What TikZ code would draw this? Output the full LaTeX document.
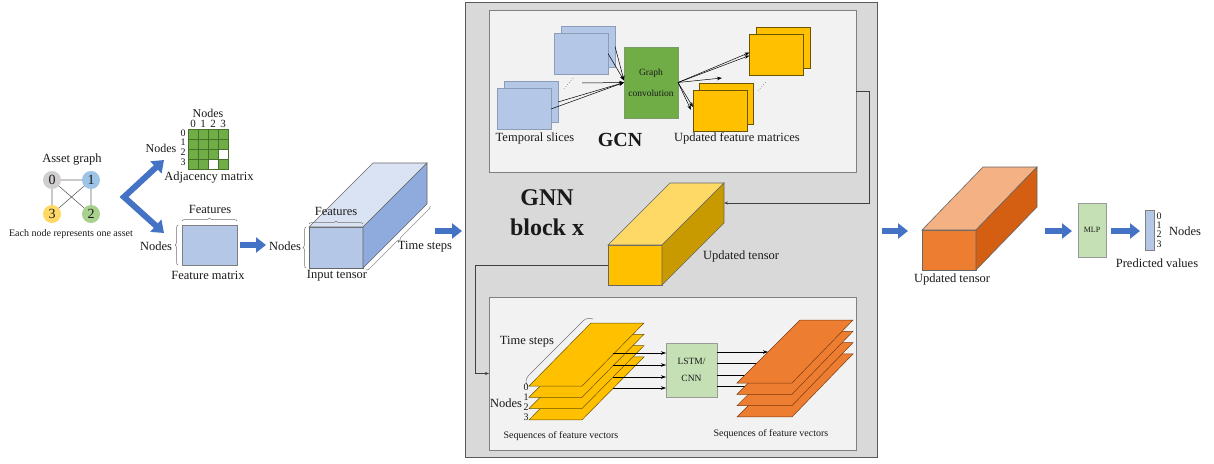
\documentclass[tikz,border=0pt]{standalone}
\usepackage{fontspec}
\setmainfont{Liberation Serif}
\usetikzlibrary{arrows.meta,decorations.pathreplacing,calc}
\definecolor{gfill}{HTML}{D9D9D9}
\definecolor{gborder}{HTML}{595959}
\definecolor{infill}{HTML}{F2F2F2}
\definecolor{inborder}{HTML}{808080}
\definecolor{lblue}{HTML}{B4C7E7}
\definecolor{lbluetop}{HTML}{DAE3F3}
\definecolor{lblueside}{HTML}{8FAADC}
\definecolor{lbluebd}{HTML}{8C9DB8}
\definecolor{ggreen}{HTML}{70AD47}
\definecolor{ggreenbd}{HTML}{44702A}
\definecolor{lgreen}{HTML}{C5E0B4}
\definecolor{yel}{HTML}{FFC000}
\definecolor{yeltop}{HTML}{FFD966}
\definecolor{yelside}{HTML}{C99A00}
\definecolor{yelbd}{HTML}{6B5300}
\definecolor{ora}{HTML}{ED7D31}
\definecolor{oratop}{HTML}{F4B183}
\definecolor{oraside}{HTML}{D45F12}
\definecolor{orabd}{HTML}{7A3A10}
\definecolor{barrow}{HTML}{4472C4}
\definecolor{ngray}{HTML}{D0CECE}
\definecolor{nblue}{HTML}{9DC3E6}
\definecolor{nyel}{HTML}{FFD966}
\definecolor{ngreen}{HTML}{A9D18E}
\definecolor{txt}{HTML}{1A1A1A}
\begin{document}
\begin{tikzpicture}[x=1pt,y=-1pt,
  every node/.style={inner sep=0pt,outer sep=0pt,text=txt},
  lbl/.style={font=\fontsize{12.5}{14}\selectfont},
  sml/.style={font=\fontsize{10}{11}\selectfont},
  dig/.style={font=\fontsize{11}{11}\selectfont},
  bigarrow/.style={draw=barrow,line width=6pt,-{Triangle[width=15pt,length=10pt]}},
  sarrow/.style={draw=black,line width=0.5pt,-{Stealth[length=5pt,width=3.5pt]}},
  conn/.style={draw=black!75,line width=0.6pt,-{Stealth[length=4pt,width=3pt]}},
  brc/.style={draw=black!55,line width=0.5pt,decorate,decoration={brace,amplitude=3pt}},
  slice/.style={draw=lbluebd,fill=lblue,line width=0.6pt,minimum width=54pt,minimum height=41pt},
  oslice/.style={draw=yelbd,fill=yel,line width=0.6pt,minimum width=54pt,minimum height=41pt},
  gnode/.style={circle,minimum size=18pt,font=\fontsize{14}{14}\selectfont},
  face/.style={draw=black!60,line width=0.6pt},
]
\useasboundingbox (0,0) rectangle (1214,463);
\fill[white] (0,0) rectangle (1214,463);

% ---------- Asset graph ----------
\node[lbl] (agt) at (72,160) {Asset graph};
\node[gnode,fill=ngray] (n0) at (52,180) {0};
\node[gnode,fill=nblue] (n1) at (91,180) {1};
\node[gnode,fill=nyel] (n3) at (52,214) {3};
\node[gnode,fill=ngreen] (n2) at (91,214) {2};
\draw[black!60,line width=0.6pt] (n0)--(n1) (n0)--(n3) (n1)--(n2) (n0)--(n2) (n1)--(n3);
\node[sml] (agc) at (71,234) {Each node represents one asset};

% ---------- Adjacency matrix ----------
\node[font=\fontsize{12}{12}\selectfont] (adjt) at (208,113) {Nodes};
\foreach \c in {0,...,3} \node[dig] (ac\c) at (193+10*\c,123.5) {\c};
\foreach \r in {0,...,3} \node[font=\fontsize{10}{10}\selectfont] (ar\r) at (183,133+9.6*\r) {\r};
\node[font=\fontsize{12}{12}\selectfont] (adjl) at (161,148) {Nodes};
\foreach \r in {0,...,3}{\foreach \c in {0,...,3}{
  \node[draw=ggreenbd,fill=ggreen,minimum size=10pt,line width=0.5pt] (adj\r\c) at (193+10*\c,134+10*\r) {};}}
\node[draw=ggreenbd,fill=white,minimum size=10pt,line width=0.5pt] at (adj23) {};
\node[draw=ggreenbd,fill=white,minimum size=10pt,line width=0.5pt] at (adj32) {};
\node[lbl] (adjc) at (209,178) {Adjacency matrix};

% ---------- Feature matrix ----------
\node[draw=black!50,fill=lblue,minimum width=55pt,minimum height=40pt,line width=0.6pt] (fm) at (209.5,245) {};
\draw[brc] ($(fm.north west)+(0,-4)$) -- ($(fm.north east)+(0,-4)$);
\node[lbl] (fmf) at (210,209) {Features};
\draw[brc] ($(fm.south west)+(-4,0)$) -- ($(fm.north west)+(-4,0)$);
\node[lbl] (fmn) at (156,246) {Nodes};
\node[lbl] (fmc) at (208,275) {Feature matrix};

% V-shaped arrow
\coordinate (vtx) at (124,197);
\coordinate (va) at (164,160);
\coordinate (vb) at (164,233);
\draw[draw=barrow,line width=6pt,{Triangle[width=16pt,length=11pt]}-{Triangle[width=16pt,length=11pt]},line join=miter] (va) -- (vtx) -- (vb);

\draw[bigarrow] ($(fm.east)+(3,0)$) -- ($(fm.east)+(29,0)$);

% ---------- Input tensor ----------
\node[face,fill=lblue,minimum width=54pt,minimum height=41pt] (it) at (336,247.5) {};
\filldraw[face,fill=lbluetop] (it.north west) -- ++(64,-64) -- ++(54,0) -- (it.north east) -- cycle;
\filldraw[face,fill=lblueside] (it.north east) -- ++(64,-64) -- ++(0,41) -- (it.south east) -- cycle;
\draw[brc] ($(it.north west)+(0,-3)$) -- ($(it.north east)+(0,-3)$);
\node[lbl] (itf) at (336,211) {Features};
\draw[brc] ($(it.south west)+(-3,0)$) -- ($(it.north west)+(-3,0)$);
\node[lbl] (itn) at (285,246) {Nodes};
\draw[brc] ($(it.south east)+(67,-62)$) -- ($(it.south east)+(3,2)$);
\node[lbl] (itt) at (425,247) {Time steps};
\node[lbl] (itc) at (337,276) {Input tensor};

% ---------- GNN block ----------
\node[draw=gborder,fill=gfill,line width=0.8pt,minimum width=412pt,minimum height=455pt] (gnn) at (671,229.5) {};
\draw[bigarrow] ($(gnn.west)+(-30,1.5)$) -- ($(gnn.west)+(-3,1.5)$);
\node[draw=inborder,fill=infill,line width=0.8pt,minimum width=367pt,minimum height=162pt] (gcn) at (672.5,91) {};
\node[draw=inborder,fill=infill,line width=0.8pt,minimum width=367pt,minimum height=153pt] (seq) at (672.5,373.5) {};

% GCN content
\node[slice] (ubb) at (588,46.5) {};
\node[slice] (ubf) at (581,53.5) {};
\node[slice] (lbb) at (531,102) {};
\node[slice] (lbf) at (524,109) {};
\node[draw=ggreenbd!70,fill=ggreen,minimum width=54pt,minimum height=71pt,align=center,font=\fontsize{9.5}{11}\selectfont] (gc) at (651,82.5) {Graph\\[10pt]convolution};
\node[oslice] (obb) at (783.5,47.5) {};
\node[oslice] (obf) at (776.5,54.5) {};
\node[oslice] (lob) at (726,103.5) {};
\node[oslice] (lof) at (720,110.5) {};
\draw[black!45,dotted,line width=0.7pt] (564,89) -- (573,78);
\draw[black!45,dotted,line width=0.7pt] (758,91) -- (767,81);
\draw[sarrow] (ubf.east) -- ($(gc.west)+(0,-2)$);
\draw[sarrow] (ubb.east) -- ($(gc.west)+(0,-2)$);
\draw[sarrow] (lbf.east) -- (gc.west);
\draw[sarrow] (lbb.east) -- (gc.west);
\coordinate (sa) at (582,83);
\draw[sarrow] (sa) -- (gc.west);
\draw[sarrow] (gc.east) -- ($(obf.west)+(0,-2)$);
\draw[sarrow] (gc.east) -- ($(obf.west)+(0,1)$);
\coordinate (sb) at (722,78);
\draw[sarrow] (gc.east) -- (sb);
\draw[sarrow] (gc.east) -- ($(lof.north west)+(0,17)$);
\draw[sarrow] (gc.east) -- ($(lof.north west)+(-2,20)$);
\node[lbl] (tsl) at (535,138) {Temporal slices};
\node[font=\fontsize{20}{20}\selectfont\bfseries] (gcnl) at (620,140) {GCN};
\node[lbl] (ufm) at (737,138) {Updated feature matrices};

% GNN block x label
\node[font=\fontsize{24}{24}\selectfont\bfseries] (gnnl1) at (547,198) {GNN};
\node[font=\fontsize{24}{24}\selectfont\bfseries] (gnnl2) at (547,227) {block x};

% Updated tensor (yellow)
\node[face,fill=yel,minimum width=54pt,minimum height=40pt] (yt) at (635,265) {};
\filldraw[face,fill=yeltop] (yt.north west) -- ++(62,-62) -- ++(54,0) -- (yt.north east) -- cycle;
\filldraw[face,fill=yelside] (yt.north east) -- ++(62,-62) -- ++(0,40) -- (yt.south east) -- cycle;
\node[lbl] (ytl) at (741,256) {Updated tensor};
\draw[conn] (gcn.east) -- ++(13,0) |- ($(yt.east)+(62,-62)$);
\draw[conn] (yt.west) -- ++(-133,0) |- (seq.west);

% Sequence content
\foreach \i in {3,2,1,0}{
  \filldraw[fill=yel,draw=yelbd,line width=0.5pt] (529,386+11.3*\i) -- (582,386+11.3*\i) -- (644,323+11.3*\i) -- (591,323+11.3*\i) -- cycle;}
\draw[black!55,line width=0.5pt] (527,385) .. controls (525,381) and (526,378) .. (530,374) -- (583,321) .. controls (586,318) and (589,318) .. (593,319);
\node[lbl] (tsteps) at (527,342) {Time steps};
\foreach \i in {0,...,3} \node[font=\fontsize{10}{10}\selectfont] (sd\i) at (526,387+10.2*\i) {\i};
\node[lbl] (sn) at (506,403) {Nodes};
\node[draw=black!40,fill=lgreen,minimum width=51pt,minimum height=54pt,align=center,font=\fontsize{9.5}{11}\selectfont] (lstm) at (691.5,370) {LSTM/\\[6pt]CNN};
\foreach \i/\yy in {0/353,1/365,2/377,3/388}{
  \coordinate (ys\i) at (613,\yy);
  \draw[sarrow] (ys\i) -- (lstm.west |- ys\i);}
\foreach \i/\yy in {0/352,1/363,2/375,3/386}{
  \coordinate (oe\i) at (768,\yy);
  \draw[sarrow] (lstm.east |- oe\i) -- (oe\i);}
\foreach \i in {3,2,1,0}{
  \filldraw[fill=ora,draw=orabd,line width=0.5pt] (737,383+11.3*\i) -- (792,383+11.3*\i) -- (853,320+11.3*\i) -- (800,320+11.3*\i) -- cycle;}
\node[sml] (sq1) at (561,436) {Sequences of feature vectors};
\node[sml] (sq2) at (771,434) {Sequences of feature vectors};

% ---------- Right part ----------
\draw[bigarrow] ($(gnn.east)+(5,1.5)$) -- ($(gnn.east)+(31,1.5)$);
\node[face,fill=ora,minimum width=54pt,minimum height=40pt] (ot) at (949,250) {};
\filldraw[face,fill=oratop] (ot.north west) -- ++(61,-63) -- ++(54,0) -- (ot.north east) -- cycle;
\filldraw[face,fill=oraside] (ot.north east) -- ++(61,-63) -- ++(0,40) -- (ot.south east) -- cycle;
\node[lbl] (otl) at (952,279) {Updated tensor};
\node[draw=black!40,fill=lgreen,minimum width=28pt,minimum height=54pt,font=\fontsize{8}{8}\selectfont] (mlp) at (1092,230) {MLP};
\draw[bigarrow] ($(mlp.west)+(-33,1)$) -- ($(mlp.west)+(-6,1)$);
\node[draw=black!50,fill=lblue,minimum width=9pt,minimum height=40pt,line width=0.6pt] (pv) at (1149.5,230) {};
\draw[bigarrow] ($(mlp.east)+(5,1)$) -- ($(pv.west)+(-5,1)$);
\foreach \i in {0,...,3} \node[font=\fontsize{10}{10}\selectfont] (pd\i) at (1159,216+9.3*\i) {\i};
\node[lbl] (pvn) at (1185,231) {Nodes};
\node[lbl] (pvl) at (1157,263) {Predicted values};
\end{tikzpicture}
\end{document}
